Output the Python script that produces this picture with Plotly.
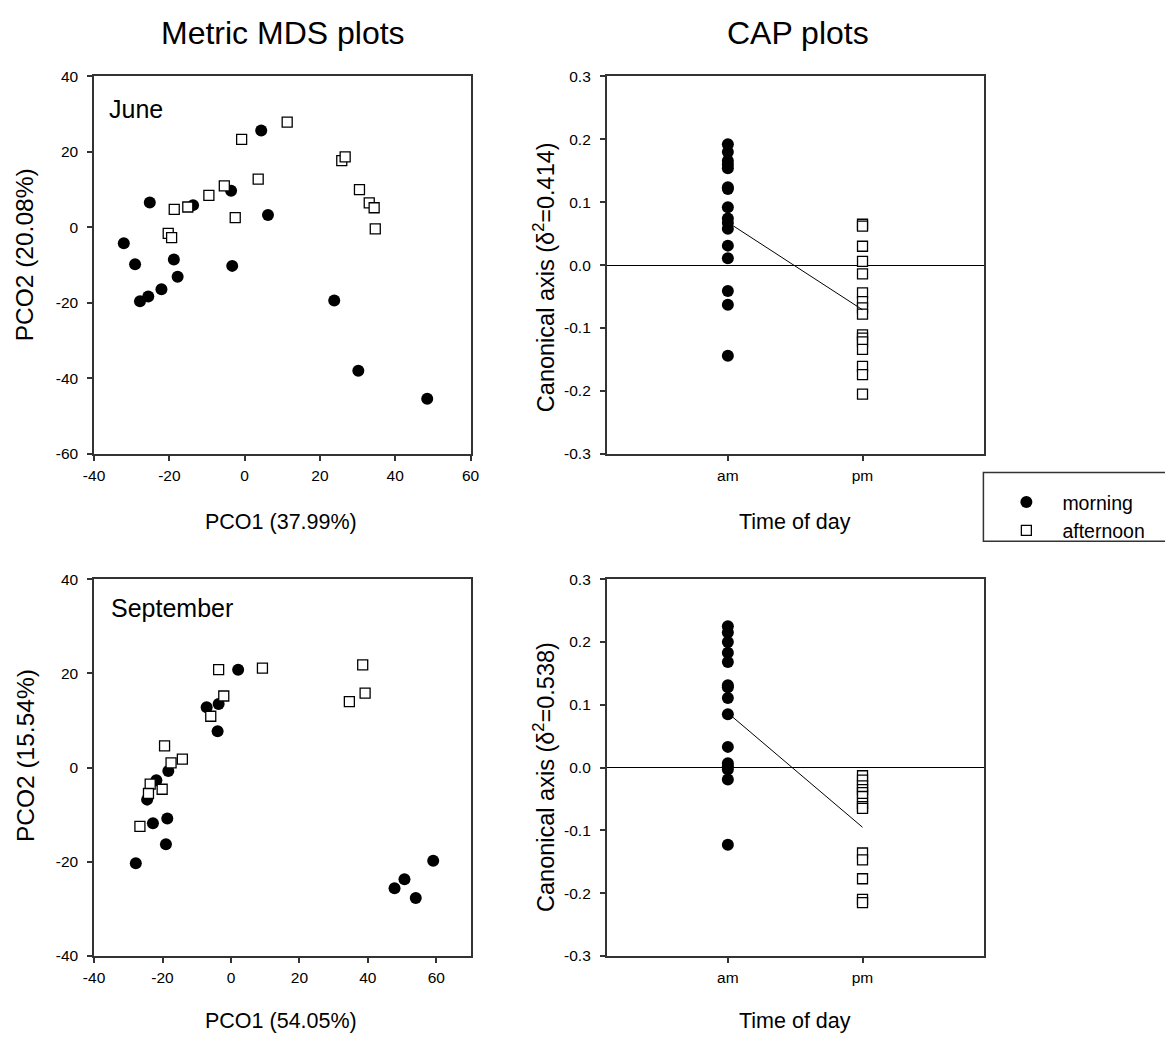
import plotly.graph_objects as go

W, H = 1165, 1039

# ---------------- data ----------------
# June metric MDS
june_morning_x = [4.4, -25.2, -13.7, -3.6, 6.2, -32.1, -29.1, -18.8, -17.8, -22.1, -25.6, -27.8, -3.3, 23.8, 30.2, 48.5]
june_morning_y = [25.7, 6.6, 5.9, 9.7, 3.3, -4.2, -9.8, -8.5, -13.1, -16.4, -18.3, -19.6, -10.2, -19.4, -38.0, -45.4]
june_afternoon_x = [11.3, -0.8, 3.6, -5.4, -9.5, -15.1, -18.7, -2.5, -20.3, -19.4, 25.8, 26.7, 30.5, 33.1, 34.4, 34.7]
june_afternoon_y = [27.9, 23.3, 12.8, 11.0, 8.5, 5.4, 4.8, 2.6, -1.6, -2.7, 17.7, 18.7, 10.0, 6.5, 5.2, -0.4]

# September metric MDS
sep_morning_x = [2.1, -7.1, -3.6, -3.9, -18.3, -21.8, -24.5, -22.8, -18.6, -19.0, -27.8, 47.8, 50.7, 54.0, 59.1]
sep_morning_y = [20.8, 12.8, 13.5, 7.7, -0.7, -2.7, -6.8, -11.8, -10.8, -16.3, -20.3, -25.6, -23.7, -27.7, -19.8]
sep_afternoon_x = [-3.6, 9.2, -2.1, -5.9, -19.4, -17.5, -14.2, -23.6, -24.1, -20.1, -26.6, 34.6, 38.5, 39.2]
sep_afternoon_y = [20.8, 21.1, 15.2, 10.9, 4.6, 1.0, 1.8, -3.5, -5.5, -4.6, -12.5, 14.0, 21.8, 15.8]

# CAP canonical axis scores
cap_groups = ["am", "pm"]
june_cap_am = [0.192, 0.180, 0.166, 0.160, 0.154, 0.124, 0.121, 0.092, 0.074, 0.067, 0.058, 0.031, 0.011, -0.041, -0.063, -0.144]
june_cap_pm = [0.065, 0.062, 0.030, 0.006, -0.014, -0.044, -0.058, -0.068, -0.078, -0.111, -0.116, -0.122, -0.134, -0.161, -0.174, -0.205]
june_cap_means = [0.068, -0.071]
sep_cap_am = [0.225, 0.215, 0.200, 0.183, 0.168, 0.131, 0.128, 0.111, 0.085, 0.033, 0.007, 0.002, -0.003, -0.019, -0.123]
sep_cap_pm = [-0.013, -0.020, -0.029, -0.035, -0.040, -0.046, -0.057, -0.062, -0.065, -0.136, -0.147, -0.177, -0.210, -0.215]
sep_cap_means = [0.087, -0.095]

june_x_ticks = [-40, -20, 0, 20, 40, 60]
june_y_ticks = [-60, -40, -20, 0, 20, 40]
sep_x_ticks = [-40, -20, 0, 20, 40, 60]
sep_y_ticks = [-40, -20, 0, 20, 40]
cap_tickvals = [-0.3, -0.2, -0.1, 0.0, 0.1, 0.2, 0.3]
cap_ticktext = ["-0.3", "-0.2", "-0.1", "0.0", "0.1", "0.2", "0.3"]

# ---------------- styling ----------------
FONT = "Liberation Sans, Arial, sans-serif"
AXC = "#333333"
TICK_SIZE = 15.5
circ = dict(symbol="circle", size=12, color="black", line=dict(width=0))
sqr = dict(symbol="square", size=10, color="white", line=dict(width=1.3, color="black"))


def hy(vals):
    return [str(v) for v in vals]


# map reference-pixel positions to paper fractions (renderer adds a small border)
def px2x(p):
    return (p - 7.6) / 1149.7


def px2y(p):
    return 1 - (p - 7.4) / 1024.5


fig = go.Figure()

fig.add_trace(go.Scatter(x=june_morning_x, y=june_morning_y, mode="markers", marker=circ,
                         name="morning", showlegend=True, xaxis="x", yaxis="y"))
fig.add_trace(go.Scatter(x=june_afternoon_x, y=june_afternoon_y, mode="markers", marker=sqr,
                         name="afternoon", showlegend=True, xaxis="x", yaxis="y"))

fig.add_trace(go.Scatter(x=[cap_groups[0]] * len(june_cap_am), y=june_cap_am, mode="markers", marker=circ,
                         showlegend=False, xaxis="x2", yaxis="y2"))
fig.add_trace(go.Scatter(x=[cap_groups[1]] * len(june_cap_pm), y=june_cap_pm, mode="markers", marker=sqr,
                         showlegend=False, xaxis="x2", yaxis="y2"))
fig.add_trace(go.Scatter(x=cap_groups, y=june_cap_means, mode="lines", line=dict(color="black", width=1),
                         showlegend=False, xaxis="x2", yaxis="y2"))

fig.add_trace(go.Scatter(x=sep_morning_x, y=sep_morning_y, mode="markers", marker=circ,
                         showlegend=False, xaxis="x3", yaxis="y3"))
fig.add_trace(go.Scatter(x=sep_afternoon_x, y=sep_afternoon_y, mode="markers", marker=sqr,
                         showlegend=False, xaxis="x3", yaxis="y3"))

fig.add_trace(go.Scatter(x=[cap_groups[0]] * len(sep_cap_am), y=sep_cap_am, mode="markers", marker=circ,
                         showlegend=False, xaxis="x4", yaxis="y4"))
fig.add_trace(go.Scatter(x=[cap_groups[1]] * len(sep_cap_pm), y=sep_cap_pm, mode="markers", marker=sqr,
                         showlegend=False, xaxis="x4", yaxis="y4"))
fig.add_trace(go.Scatter(x=cap_groups, y=sep_cap_means, mode="lines", line=dict(color="black", width=1),
                         showlegend=False, xaxis="x4", yaxis="y4"))

ax_common = dict(showgrid=False, showline=True, linecolor=AXC, linewidth=1.5, mirror=True,
                 ticks="outside", ticklen=5, tickwidth=1.5, tickcolor=AXC,
                 tickfont=dict(family=FONT, size=TICK_SIZE, color="black"), zeroline=False, fixedrange=True)
xax = dict(ax_common, ticklabelstandoff=2)
yax = dict(ax_common, ticklabelstandoff=6)

dom_left = [px2x(91), px2x(469)]
dom_right = [px2x(605.7), px2x(984.3)]
dom_top = [px2y(453.3), px2y(75)]
dom_bot = [px2y(956.7), px2y(579)]

fig.update_layout(
    width=W, height=H, margin=dict(l=0, r=0, t=0, b=0),
    paper_bgcolor="white", plot_bgcolor="white",
    font=dict(family=FONT, color="black"),
    xaxis=dict(xax, domain=dom_left, anchor="y", range=[-40, 60], tickvals=june_x_ticks, ticktext=hy(june_x_ticks)),
    yaxis=dict(yax, domain=dom_top, anchor="x", range=[-60, 40], tickvals=june_y_ticks, ticktext=hy(june_y_ticks)),
    xaxis2=dict(xax, domain=dom_right, anchor="y2", type="category", range=[-0.9, 1.9],
                categoryorder="array", categoryarray=cap_groups),
    yaxis2=dict(yax, domain=dom_top, anchor="x2", range=[-0.3, 0.3], tickvals=cap_tickvals,
                ticktext=cap_ticktext, zeroline=True, zerolinecolor="black", zerolinewidth=1),
    xaxis3=dict(xax, domain=dom_left, anchor="y3", range=[-40, 70], tickvals=sep_x_ticks, ticktext=hy(sep_x_ticks)),
    yaxis3=dict(yax, domain=dom_bot, anchor="x3", range=[-40, 40], tickvals=sep_y_ticks, ticktext=hy(sep_y_ticks)),
    xaxis4=dict(xax, domain=dom_right, anchor="y4", type="category", range=[-0.9, 1.9],
                categoryorder="array", categoryarray=cap_groups),
    yaxis4=dict(yax, domain=dom_bot, anchor="x4", range=[-0.3, 0.3], tickvals=cap_tickvals,
                ticktext=cap_ticktext, zeroline=True, zerolinecolor="black", zerolinewidth=1),
    showlegend=True,
    legend=dict(x=px2x(991), y=px2y(516), xanchor="left", yanchor="middle",
                bgcolor="rgba(0,0,0,0)", borderwidth=0, tracegroupgap=0, itemwidth=62,
                font=dict(family=FONT, size=19.5, color="black")),
)

# legend frame
fig.add_shape(type="rect", xref="paper", yref="paper", x0=px2x(984), x1=px2x(1180),
              y0=px2y(541), y1=px2y(472), line=dict(color=AXC, width=1.5), fillcolor="rgba(0,0,0,0)")


def ann(text, x, y, size, angle=0, xanchor="center"):
    fig.add_annotation(text=text, x=px2x(x), y=px2y(y), xref="paper", yref="paper",
                       showarrow=False, textangle=angle, xanchor=xanchor, yanchor="middle",
                       font=dict(family=FONT, size=size, color="black"))


ann("Metric MDS plots", 281, 31, 32)
ann("CAP plots", 798, 31, 32)
ann("PCO1 (37.99%)", 279, 522, 21.5)
ann("Time of day", 795, 522, 21.5)
ann("PCO1 (54.05%)", 279, 1022, 21.5)
ann("Time of day", 795, 1022, 21.5)
ann("PCO2 (20.08%)", 22, 254, 24.5, -90)
ann("PCO2 (15.54%)", 22, 756, 24.5, -90)
ann("Canonical axis (δ<sup>2</sup>=0.414)", 543, 276, 23.5, -90)
ann("Canonical axis (δ<sup>2</sup>=0.538)", 543, 777, 23.5, -90)
ann("June", 104, 108, 25, xanchor="left")
ann("September", 106, 608, 25, xanchor="left")

fig.write_html("out.html")
